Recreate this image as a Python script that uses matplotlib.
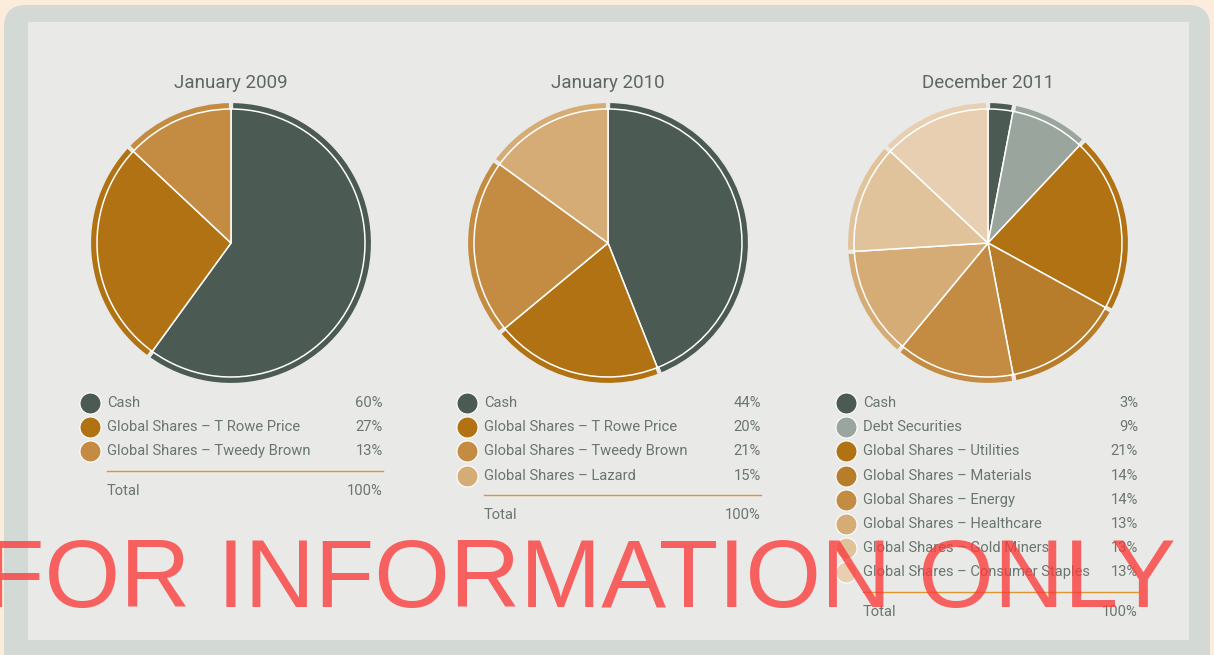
import matplotlib
matplotlib.use("Agg")
import matplotlib.pyplot as plt
from matplotlib.patches import FancyBboxPatch, Rectangle

W, H = 1214, 655

# data
titles = ["January 2009", "January 2010", "December 2011"]

labels_2009 = ["Cash", "Global Shares – T Rowe Price", "Global Shares – Tweedy Brown"]
values_2009 = [60, 27, 13]
colors_2009 = ["#4b5a52", "#b07212", "#c48c42"]

labels_2010 = ["Cash", "Global Shares – T Rowe Price", "Global Shares – Tweedy Brown",
               "Global Shares – Lazard"]
values_2010 = [44, 20, 21, 15]
colors_2010 = ["#4b5a52", "#b07212", "#c48c42", "#d5ac75"]

labels_2011 = ["Cash", "Debt Securities", "Global Shares – Utilities", "Global Shares – Materials",
               "Global Shares – Energy", "Global Shares – Healthcare", "Global Shares – Gold Miners",
               "Global Shares – Consumer Staples"]
values_2011 = [3, 9, 21, 14, 14, 13, 13, 13]
colors_2011 = ["#4b5a52", "#9aa59e", "#b07212", "#b87d2a", "#c48c42", "#d5ac75", "#e1c39b", "#e8cfb1"]

total_label = "Total"
total_value = 100

bg = "#e9eae8"
text_col = "#6a7570"
plt.rcParams['font.family'] = ['Roboto', 'DejaVu Sans']

fig = plt.figure(figsize=(W / 100, H / 100), dpi=100)
fig.patch.set_facecolor("#fcecdb")
ax = fig.add_axes([0, 0, 1, 1])
ax.set_xlim(0, W)
ax.set_ylim(0, H)
ax.set_aspect("equal")
ax.axis("off")

# cadre
ax.add_patch(FancyBboxPatch((4, -20), 1210 - 4, H - 5 + 20, boxstyle="round,pad=0,rounding_size=22",
                            fc="#d3d9d5", ec="none", zorder=0))
ax.add_patch(Rectangle((28, H - 640), 1189 - 28, 640 - 22, fc=bg, ec="none", zorder=1))

centres_x = [231, 608, 988]
legend_x = [90, 467, 846]
pct_x = [383, 761, 1138]
cy = 243
R, r = 142, 134
fs = 10.6

groupes = [(labels_2009, values_2009, colors_2009),
           (labels_2010, values_2010, colors_2010),
           (labels_2011, values_2011, colors_2011)]

for k, (labs, vals, cols) in enumerate(groupes):
    cx = centres_x[k]
    # rebord exterieur
    ax.pie(vals, colors=cols, center=(cx, H - cy), radius=R, startangle=90, counterclock=False,
           wedgeprops=dict(edgecolor=bg, linewidth=3, joinstyle="round"), frame=True)
    # partie interieure
    ax.pie(vals, colors=cols, center=(cx, H - cy), radius=r, startangle=90, counterclock=False,
           wedgeprops=dict(edgecolor="white", linewidth=1.1), frame=True)
    ax.text(cx, H - 83, titles[k], ha="center", va="center", fontsize=13.5, color="#5c6762",
            zorder=5)

    # legende
    y0 = 403
    for i, (lab, v, c) in enumerate(zip(labs, vals, cols)):
        y = H - (y0 + i * 24.2)
        ax.scatter(legend_x[k], y, s=230, color=c, edgecolor="white", linewidth=0.8, zorder=5)
        ax.text(legend_x[k] + 17, y, lab, ha="left", va="center", fontsize=fs,
                color=text_col, zorder=5)
        ax.text(pct_x[k], y, f"{v}%", ha="right", va="center", fontsize=fs,
                color=text_col, zorder=5)
    yl = H - (y0 + len(labs) * 24.2 - 5)
    ax.plot([legend_x[k] + 17, pct_x[k]], [yl, yl], color="#e0962e", linewidth=1, zorder=5)
    yt = H - (y0 + len(labs) * 24.2 + 15)
    ax.text(legend_x[k] + 17, yt, total_label, ha="left", va="center", fontsize=fs,
            color=text_col, zorder=5)
    ax.text(pct_x[k], yt, f"{total_value}%", ha="right", va="center", fontsize=fs,
            color=text_col, zorder=5)

ax.set_xlim(0, W)
ax.set_ylim(0, H)
ax.axis("off")

# filigrane
ax.text(580, H - 607, "FOR INFORMATION ONLY", ha="center", va="baseline", fontsize=70,
        family="Liberation Sans", color="#fa3a3a", alpha=0.78, zorder=10)

fig.savefig("out.png", dpi=100, facecolor=fig.get_facecolor())
